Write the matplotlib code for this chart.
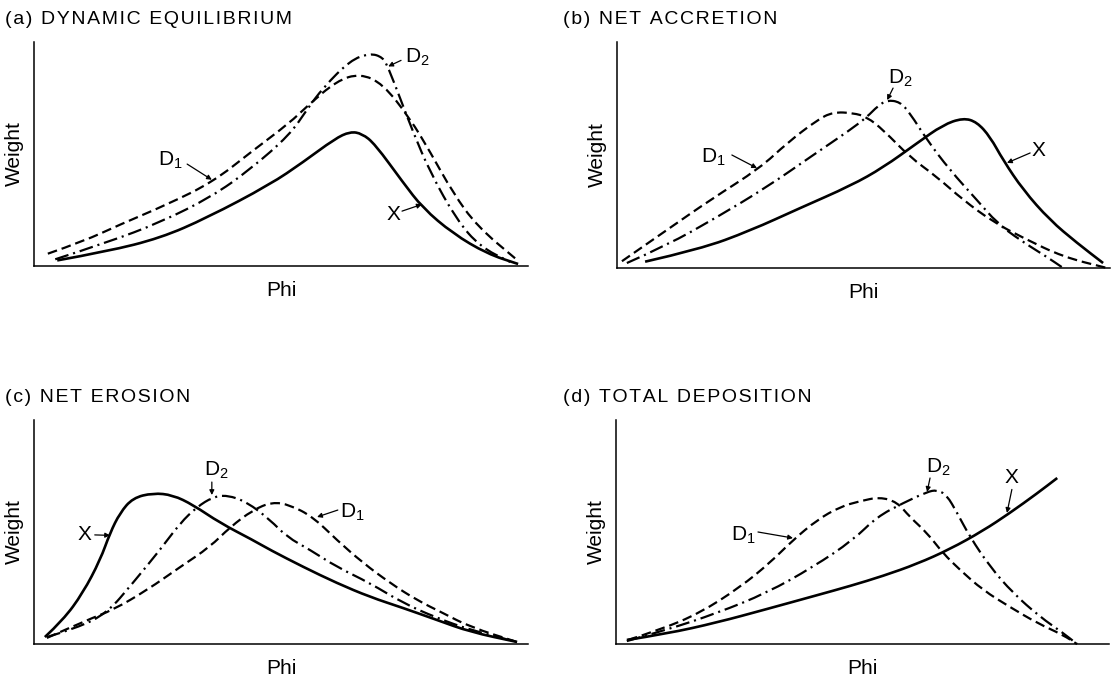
import matplotlib
matplotlib.use("Agg")
import matplotlib.pyplot as plt
from matplotlib.path import Path
from matplotlib.patches import PathPatch

plt.rcParams["font.family"] = ["Liberation Sans", "DejaVu Sans"]
plt.rcParams["lines.scale_dashes"] = False

W, H = 1114, 679

# ── Curves (Phi and Weight in percent of the axis span) ──────────────────────
# (a) dynamic equilibrium
a_x_phi = [4.7, 14.8, 25.6, 35.0, 47.8, 54.5, 60.9, 64.0, 66.4, 69.0, 74.7, 78.7, 84.8, 91.7,
           98.0]
a_x_wt  = [2.5, 6.5, 12.5, 21.5, 36.4, 46.4, 56.8, 60.0, 59.1, 54.5, 37.3, 25.9, 14.5, 5.5,
           0.9]
a_d1_phi = [2.8, 10.0, 17.4, 27.0, 36.2, 44.0, 51.8, 55.3, 61.3, 66.0, 70.6, 76.1, 80.2, 84.8,
            89.7, 98.0]
a_d1_wt  = [5.5, 11.0, 18.5, 27.5, 37.5, 51.0, 64.0, 71.4, 82.7, 85.9, 81.4, 65.9, 50.9, 32.7,
            17.7, 2.3]
a_d2_phi = [4.3, 14.8, 25.6, 36.0, 43.7, 51.8, 55.3, 58.5, 64.0, 68.0, 70.6, 71.7, 74.1, 76.7,
            80.2, 85.6, 90.3, 96.4]
a_d2_wt  = [3.0, 10.5, 19.5, 31.0, 43.0, 58.6, 70.0, 79.5, 91.8, 95.0, 93.2, 88.6, 75.0, 60.0,
            41.8, 20.5, 8.6, 1.8]

# (b) net accretion
b_x_phi = [5.7, 16.8, 27.0, 37.1, 47.5, 54.0, 60.9, 66.1, 70.2, 73.0, 75.7, 78.3, 82.4, 87.8,
           93.3, 98.6]
b_x_wt  = [2.8, 8.3, 16.5, 26.5, 36.5, 44.5, 55.3, 63.3, 66.4, 64.6, 58.0, 47.8, 34.5, 21.2,
           11.1, 2.2]
b_d1_phi = [1.0, 10.1, 18.9, 29.0, 34.5, 40.6, 43.8, 47.9, 50.7, 54.0, 59.4, 64.9, 70.2, 76.3,
            82.4, 90.5, 99.4]
b_d1_wt  = [3.0, 16.8, 30.1, 44.2, 55.3, 65.5, 69.0, 68.6, 66.8, 61.1, 49.1, 40.3, 30.1, 20.4,
            13.3, 4.9, 0.0]
b_d2_phi = [2.0, 10.1, 20.3, 30.4, 39.8, 47.3, 50.7, 52.9, 54.8, 57.4, 59.4, 62.9, 67.5, 73.0,
            77.1, 81.7, 87.2, 90.5]
b_d2_wt  = [2.2, 10.0, 22.5, 35.8, 50.0, 61.1, 66.8, 71.7, 74.3, 73.5, 68.6, 56.6, 43.4, 30.1,
            19.9, 12.4, 4.9, 0.0]

# (c) net erosion
c_x_phi = [2.2, 5.9, 9.9, 13.4, 15.4, 17.4, 20.0, 24.1, 28.1, 32.2, 37.7, 44.3, 47.8, 54.5,
           61.3, 68.0, 74.7, 81.6, 88.3, 97.8]
c_x_wt  = [3.1, 10.7, 22.8, 37.5, 49.6, 58.5, 65.2, 67.4, 66.5, 62.1, 54.0, 46.4, 42.0, 34.4,
           27.2, 21.0, 16.1, 10.7, 5.4, 0.9]
c_d1_phi = [2.6, 10.7, 16.0, 22.9, 29.6, 35.6, 39.7, 44.3, 48.2, 51.8, 56.5, 61.3, 66.6, 72.1,
            77.5, 82.8, 88.3, 97.8]
c_d1_wt  = [2.7, 10.7, 15.2, 24.1, 34.4, 43.3, 52.2, 59.8, 63.4, 62.1, 56.7, 46.4, 36.2, 27.2,
            19.6, 13.8, 7.6, 0.9]
c_d2_phi = [2.6, 8.7, 14.8, 20.0, 25.5, 29.6, 33.0, 36.2, 39.1, 43.1, 47.8, 51.2, 55.9, 61.3,
            68.0, 74.7, 81.6, 88.3, 97.8]
c_d2_wt  = [3.1, 7.1, 13.8, 27.2, 42.0, 54.0, 61.2, 65.6, 66.5, 63.4, 55.4, 47.8, 42.0, 34.4,
            27.2, 18.3, 11.6, 6.3, 0.9]

# (d) total deposition
d_x_phi = [2.2, 10.3, 20.5, 30.6, 40.8, 47.5, 54.2, 61.1, 67.7, 74.4, 79.9, 85.4, 89.5]
d_x_wt  = [1.8, 4.6, 9.6, 15.6, 21.8, 25.9, 30.4, 35.8, 42.3, 50.5, 58.5, 67.2, 74.1]
d_d1_phi = [2.4, 8.9, 17.0, 25.2, 31.2, 35.9, 40.8, 45.4, 49.5, 53.5, 57.0, 59.6, 63.1, 66.3,
            69.8, 74.4, 79.9, 85.4, 90.7, 93.5]
d_d1_wt  = [1.8, 6.3, 13.8, 25.4, 36.2, 46.4, 55.4, 61.2, 63.8, 65.6, 63.4, 56.7, 49.6, 40.6,
            33.0, 24.1, 16.5, 9.4, 4.0, 0.0]
d_d2_phi = [2.2, 10.3, 20.5, 30.6, 40.0, 48.1, 52.9, 58.2, 63.1, 65.1, 67.1, 69.2, 71.8, 75.9,
            80.5, 86.0, 90.7, 93.5]
d_d2_wt  = [1.3, 6.3, 13.8, 22.8, 34.4, 46.4, 56.7, 62.9, 67.9, 68.8, 66.5, 58.5, 47.8, 34.4,
            22.8, 12.1, 4.9, 0.0]

TITLES = ["(a) DYNAMIC EQUILIBRIUM", "(b) NET ACCRETION",
          "(c) NET EROSION", "(d) TOTAL DEPOSITION"]

SOLID   = "-"
DASHED  = (0, (7, 3.5))
DASHDOT = (0, (10, 3.5, 1.5, 3.5))

# panel boxes in pixels: left, top, right, bottom
BOXES = [(34, 42, 528, 266), (617, 42, 1110, 268),
         (34, 420, 528, 644), (616, 420, 1109, 644)]

panels = [
    ((a_x_phi, a_x_wt), (a_d1_phi, a_d1_wt), (a_d2_phi, a_d2_wt)),
    ((b_x_phi, b_x_wt), (b_d1_phi, b_d1_wt), (b_d2_phi, b_d2_wt)),
    ((c_x_phi, c_x_wt), (c_d1_phi, c_d1_wt), (c_d2_phi, c_d2_wt)),
    ((d_x_phi, d_x_wt), (d_d1_phi, d_d1_wt), (d_d2_phi, d_d2_wt)),
]

# curve labels: text, subscript, text position, arrow start, arrow tip
LABELS = [
    [("X", "", (72.7, 23.0), (74.5, 24.5), (78.5, 27.5)),
     ("D", "1", (27.5, 47.0), (31.0, 45.5), (36.0, 38.5)),
     ("D", "2", (77.5, 93.2), (74.3, 91.8), (71.7, 89.1))],
    [("X", "", (85.4, 52.2), (83.8, 50.9), (79.1, 46.5)),
     ("D", "1", (19.5, 49.1), (23.3, 50.0), (28.4, 44.2)),
     ("D", "2", (57.4, 84.1), (56.0, 79.6), (54.8, 74.3))],
    [("X", "", (10.3, 48.7), (12.3, 48.7), (15.4, 48.5)),
     ("D", "1", (64.5, 58.9), (61.5, 59.8), (57.3, 56.7)),
     ("D", "2", (37.0, 77.5), (36.0, 72.3), (36.0, 66.5))],
    [("X", "", (80.3, 74.5), (80.3, 69.0), (79.3, 58.5)),
     ("D", "1", (25.8, 48.7), (28.8, 50.0), (35.9, 47.3)),
     ("D", "2", (65.3, 79.0), (63.7, 74.1), (63.1, 67.9))],
]


def smooth_curve(ax, xs, ys, ls, lw):
    """Quadratic Bezier path through the midpoints, the read points as controls."""
    verts = [(xs[0], ys[0])]
    codes = [Path.MOVETO]
    for i in range(1, len(xs) - 1):
        verts += [(xs[i], ys[i]), ((xs[i] + xs[i + 1]) / 2, (ys[i] + ys[i + 1]) / 2)]
        codes += [Path.CURVE3, Path.CURVE3]
    verts.append((xs[-1], ys[-1]))
    codes.append(Path.LINETO)
    ax.add_patch(PathPatch(Path(verts, codes), fill=False, edgecolor="black",
                           lw=lw, linestyle=ls, capstyle="butt",
                           joinstyle="round", clip_on=False))


def tracked(text):
    # loose letter spacing for the panel headings
    return "\u200a".join(text)


fig = plt.figure(figsize=(W / 100, H / 100), dpi=100)

for i, (box, curves, labels) in enumerate(zip(BOXES, panels, LABELS)):
    l, t, r, b = box
    ax = fig.add_axes([l / W, 1 - b / H, (r - l) / W, (b - t) / H])
    ax.set_xlim(0, 100)
    ax.set_ylim(0, 100)
    for spine in ("top", "right"):
        ax.spines[spine].set_visible(False)
    for spine in ("left", "bottom"):
        ax.spines[spine].set_linewidth(1.1)
    ax.set_xticks([])
    ax.set_yticks([])

    (xp, xw), (d1p, d1w), (d2p, d2w) = curves
    smooth_curve(ax, xp, xw, SOLID, 1.9)
    smooth_curve(ax, d1p, d1w, DASHED, 1.6)
    smooth_curve(ax, d2p, d2w, DASHDOT, 1.6)

    for name, sub, txy, start, tip in labels:
        label = r"$\mathregular{%s_{%s}}$" % (name, sub) if sub else name
        ax.text(*txy, label, fontsize=15, ha="center", va="center")
        ax.annotate("", xy=tip, xytext=start,
                    arrowprops=dict(arrowstyle="-|>", lw=0.9, color="black",
                                    mutation_scale=7, shrinkA=0, shrinkB=0))

    # headings and axis names
    title_x = 5 if l < 300 else 563
    fig.text(title_x / W, 1 - (t - 23) / H, tracked(TITLES[i]), fontsize=14,
             ha="left", va="center")
    fig.text((l + r) / 2 / W, 1 - (b + 25) / H, "Phi", fontsize=15,
             ha="center", va="center")
    fig.text((l - 20) / W, 1 - (t + b) / 2 / H, "Weight", fontsize=15,
             rotation=90, ha="center", va="center")

fig.savefig("out.png", dpi=100, facecolor="white")
